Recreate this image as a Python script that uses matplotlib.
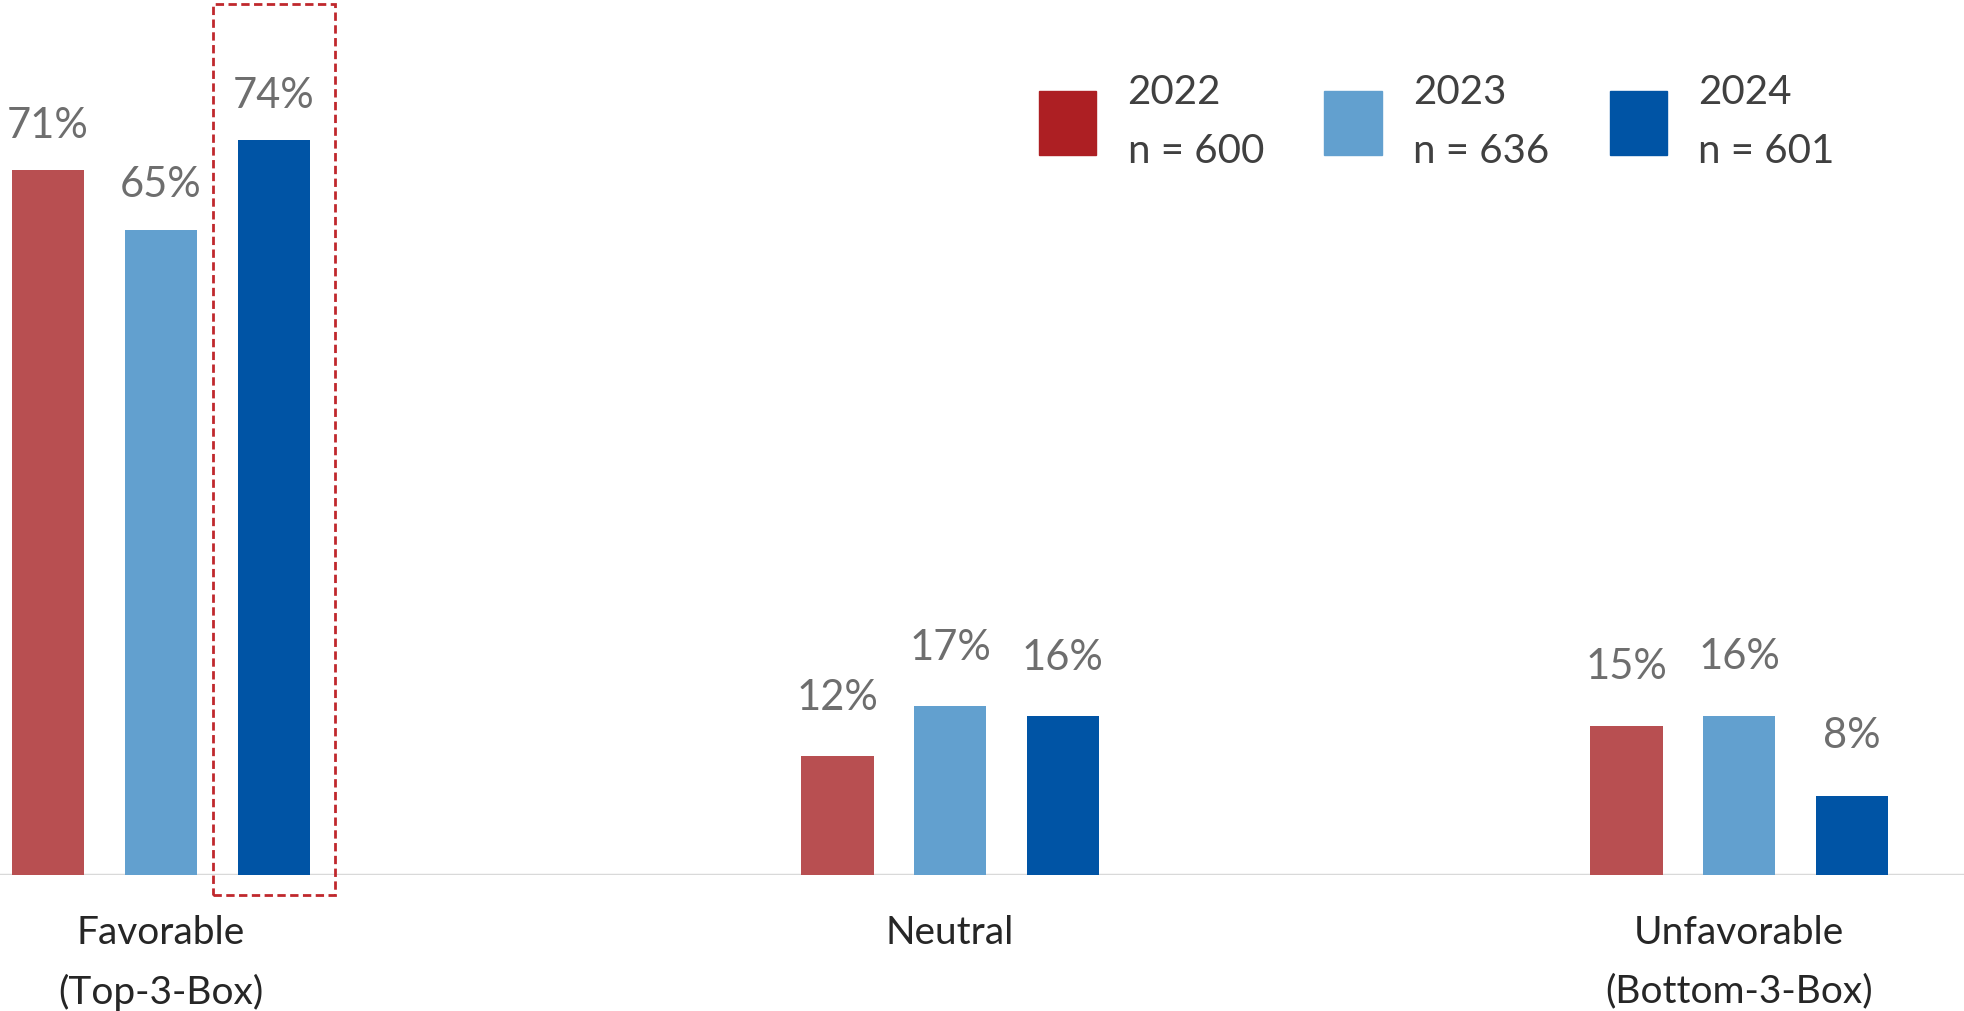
import numpy as np
import matplotlib.pyplot as plt
from matplotlib.patches import Patch, Rectangle

plt.rcParams['font.family'] = ['Lato', 'DejaVu Sans']

# data
categories = ['Favorable\n(Top-3-Box)', 'Neutral', 'Unfavorable\n(Bottom-3-Box)']
years = ['2022', '2023', '2024']
sample_sizes = [600, 636, 601]
values_2022 = [71, 12, 15]
values_2023 = [65, 17, 16]
values_2024 = [74, 16, 8]

bar_colors = ['#B84F51', '#62A0CF', '#0054A5']
legend_colors = ['#AD1F23', '#62A0CF', '#0054A5']
label_gap = [19, 29, 30]  # points above bar, per category

fig = plt.figure(figsize=(19.64, 10.12), dpi=100)
ax = fig.add_axes([0, 0.134, 1, 0.866])

x = np.arange(len(categories))
width = 0.092
step = 0.143
series = [values_2022, values_2023, values_2024]

for i, vals in enumerate(series):
    bars = ax.bar(x + (i - 1) * step, vals, width, color=bar_colors[i])
    for j, (b, v) in enumerate(zip(bars, vals)):
        ax.annotate(f'{v}%', (b.get_x() + b.get_width() / 2, v),
                    xytext=(0, label_gap[j]), textcoords='offset points',
                    ha='center', va='bottom', fontsize=30, color='#6E6E6E')

ax.set_xlim(-0.204, 2.285)
ax.set_ylim(0, 88.2)

# baseline
ax.axhline(0, color='#D9D9D9', lw=2.5, zorder=0)

# highlight box around the 2024 favorable bar
hx = x[0] + step
box = Rectangle((hx - 0.077, -2.0), 0.154, 89.7, fill=False, ls=(0, (3, 1.6)),
                ec='#C0282D', lw=2, clip_on=False)
ax.add_patch(box)

ax.set_xticks(x)
ax.set_xticklabels(categories, fontsize=28, color='#262626', linespacing=1.75)
ax.tick_params(axis='x', length=0, pad=28)
ax.set_yticks([])
for s in ax.spines.values():
    s.set_visible(False)

handles = [Patch(color=c) for c in legend_colors]
labels = [f'{y}\nn = {n}' for y, n in zip(years, sample_sizes)]
leg = ax.legend(handles, labels, ncol=3, loc='upper left',
                bbox_to_anchor=(0.529, 0.916), frameon=False, fontsize=29,
                handlelength=1.42, handleheight=2.05, handletextpad=0.78,
                columnspacing=1.5, borderaxespad=0, borderpad=0)
for t in leg.get_texts():
    t.set_color('#404040')
    t.set_linespacing(1.75)

fig.savefig('out.png', dpi=100)
